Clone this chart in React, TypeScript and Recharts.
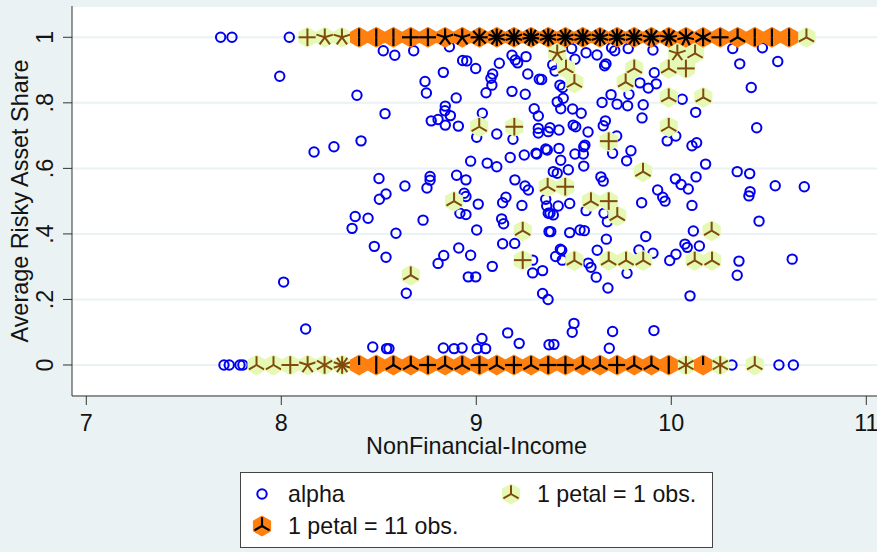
import React from 'react';
import { ScatterChart, Scatter, XAxis, YAxis, CartesianGrid, Legend, Label } from 'recharts';

const xTicks = [7, 8, 9, 10, 11];
const yTicks = [0, 0.2, 0.4, 0.6, 0.8, 1];
const yTickText: Record<string, string> = { '0': '0', '0.2': '.2', '0.4': '.4', '0.6': '.6', '0.8': '.8', '1': '1' };
const xTitle = 'NonFinancial-Income';
const yTitle = 'Average Risky Asset Share';
const legendNames = { alpha: 'alpha', light: '1 petal = 1 obs.', dark: '1 petal = 11 obs.' };

const alphaTopRow: [number, number][] = [[7.689, 1], [7.747, 1], [8.041, 1]];
const alphaBottomRow: [number, number][] = [
  [7.706, 0], [7.733, 0], [7.788, 0], [7.803, 0], [10.311, 0], [10.552, 0], [10.626, 0],
];
const alphaLeft: [number, number][] = [
  [7.992, 0.881], [8.523, 0.959], [8.582, 0.945], [8.679, 0.959], [8.862, 0.971], [8.93, 0.929], [8.951, 0.928],
  [8.997, 0.905], [9.118, 0.921], [9.183, 0.945], [9.255, 0.941], [9.2, 0.931], [9.212, 0.922], [9.264, 0.888],
  [9.323, 0.872], [8.831, 0.893], [8.737, 0.865], [8.744, 0.83], [8.897, 0.815], [9.084, 0.888], [9.075, 0.875],
  [9.08, 0.854], [9.05, 0.831], [9.183, 0.835], [9.251, 0.826], [8.388, 0.823], [8.532, 0.767], [8.168, 0.65],
  [8.27, 0.666], [8.409, 0.684], [8.841, 0.79], [8.839, 0.776], [8.867, 0.761], [8.769, 0.745], [8.804, 0.749],
  [8.841, 0.732], [8.908, 0.729], [9.031, 0.768], [9.297, 0.782], [9.318, 0.76], [9.105, 0.705], [9.002, 0.695],
  [9.188, 0.689], [9.318, 0.722], [9.318, 0.708], [8.971, 0.622], [9.056, 0.616], [9.105, 0.605], [9.174, 0.633],
  [9.246, 0.641], [9.306, 0.646], [8.501, 0.569], [8.634, 0.546], [8.763, 0.575], [8.763, 0.564], [8.747, 0.54],
  [8.899, 0.579], [8.947, 0.565], [9.198, 0.565], [9.25, 0.546], [9.267, 0.534], [8.537, 0.522], [8.503, 0.506],
  [8.938, 0.524], [8.947, 0.514], [9.01, 0.491], [9.135, 0.495], [9.152, 0.512], [9.234, 0.487], [9.356, 0.506],
  [9.361, 0.485], [8.916, 0.463], [8.947, 0.459], [9.13, 0.446], [9.14, 0.431], [9.369, 0.463], [8.379, 0.453],
  [8.445, 0.448], [8.363, 0.417], [8.727, 0.442], [8.588, 0.402], [9.002, 0.412], [9.373, 0.407], [8.477, 0.362],
  [8.537, 0.329], [8.91, 0.357], [8.971, 0.335], [9.135, 0.37], [9.197, 0.371], [8.833, 0.334], [8.804, 0.31],
  [9.082, 0.301], [9.289, 0.32], [8.959, 0.269], [8.997, 0.269], [9.289, 0.281], [9.34, 0.288], [8.012, 0.253],
  [8.641, 0.219], [9.34, 0.218], [9.368, 0.2], [8.125, 0.11], [8.469, 0.055], [8.54, 0.05], [8.552, 0.05],
  [8.831, 0.052], [8.886, 0.05], [8.927, 0.052], [9.004, 0.05], [9.048, 0.05], [9.029, 0.081], [9.161, 0.098],
  [9.22, 0.066], [9.373, 0.062],
];
const alphaRight: [number, number][] = [
  [9.395, 0.59], [9.415, 0.585], [9.472, 0.596], [9.639, 0.574], [9.651, 0.561], [10.021, 0.568], [10.05, 0.551],
  [10.087, 0.537], [10.127, 0.574], [10.338, 0.59], [10.402, 0.584], [10.533, 0.547], [10.682, 0.544], [10.404, 0.529],
  [10.398, 0.516], [9.93, 0.534], [9.956, 0.512], [9.968, 0.5], [10.106, 0.487], [9.848, 0.495], [9.479, 0.493],
  [9.42, 0.485], [9.563, 0.471], [9.655, 0.463], [9.672, 0.437], [10.45, 0.439], [9.378, 0.463], [9.395, 0.458],
  [9.382, 0.407], [9.479, 0.404], [9.532, 0.412], [9.554, 0.41], [9.667, 0.384], [9.869, 0.392], [10.113, 0.409],
  [9.62, 0.35], [9.431, 0.353], [9.438, 0.35], [9.407, 0.331], [9.441, 0.32], [9.834, 0.351], [9.906, 0.341],
  [10.024, 0.338], [10.07, 0.369], [10.082, 0.359], [10.144, 0.363], [9.992, 0.319], [10.347, 0.317], [10.62, 0.323],
  [10.338, 0.274], [9.574, 0.311], [9.588, 0.298], [9.615, 0.268], [9.773, 0.28], [9.675, 0.235], [10.096, 0.211],
  [9.501, 0.127], [9.492, 0.1], [9.699, 0.102], [9.911, 0.105], [9.398, 0.063], [9.682, 0.051],
  [9.489, 0.966], [9.563, 0.953], [9.619, 0.946], [9.506, 0.933], [9.665, 0.919], [9.658, 0.913], [9.694, 0.968],
  [9.71, 0.959], [9.779, 0.966], [9.906, 0.961], [10.315, 0.966], [10.467, 0.968], [10.351, 0.919], [10.546, 0.926],
  [10.41, 0.847], [9.392, 0.916], [9.404, 0.897], [9.335, 0.871], [9.913, 0.892], [9.839, 0.861], [9.882, 0.845],
  [9.923, 0.858], [9.429, 0.854], [9.443, 0.847], [9.691, 0.825], [9.783, 0.826], [9.645, 0.801], [9.722, 0.796],
  [9.776, 0.791], [9.856, 0.794], [10.056, 0.811], [10.125, 0.771], [9.85, 0.754], [9.446, 0.814], [9.415, 0.803],
  [9.433, 0.782], [9.494, 0.781], [9.538, 0.768], [9.662, 0.745], [9.651, 0.73], [9.497, 0.732], [9.51, 0.727],
  [9.378, 0.724], [9.369, 0.712], [9.424, 0.717], [9.573, 0.711], [9.72, 0.699], [10.438, 0.724], [9.979, 0.684],
  [10.023, 0.699], [10.106, 0.669], [10.13, 0.678], [9.356, 0.659], [9.364, 0.656], [9.424, 0.661], [9.31, 0.644],
  [9.557, 0.671], [9.551, 0.666], [9.506, 0.644], [9.549, 0.644], [9.433, 0.625], [9.699, 0.646], [9.793, 0.654],
  [9.771, 0.623], [9.551, 0.607], [10.176, 0.613],
];

// [x, y, petals]
const lightInterior: [number, number, number][] = [
  [9.015, 0.727, 3], [9.195, 0.727, 4], [9.415, 0.951, 5], [9.46, 0.905, 3], [9.503, 0.861, 3], [9.81, 0.905, 3],
  [9.766, 0.863, 3], [10.031, 0.951, 5], [10.122, 0.951, 3], [9.987, 0.905, 3], [10.075, 0.905, 4], [9.987, 0.817, 3],
  [10.164, 0.817, 3], [9.987, 0.727, 3], [9.679, 0.683, 4], [9.855, 0.59, 3], [8.886, 0.5, 3], [9.238, 0.41, 3],
  [9.238, 0.32, 4], [8.664, 0.274, 3], [9.366, 0.544, 3], [9.456, 0.544, 4], [9.588, 0.5, 3], [9.679, 0.5, 4],
  [9.723, 0.455, 3], [10.207, 0.41, 3], [9.503, 0.319, 3], [9.679, 0.319, 3], [9.768, 0.319, 3], [9.856, 0.319, 3],
  [10.12, 0.319, 3], [10.209, 0.319, 3],
];
const lightTopRow: [number, number, number][] = [[8.134, 1, 4], [8.223, 1, 5], [8.311, 1, 5], [10.693, 1, 3]];
const lightBottomRow: [number, number, number][] = [
  [7.873, 0, 3], [7.96, 0, 3], [8.046, 0, 4], [8.135, 0, 5], [8.222, 0, 6], [8.312, 0, 10],
  [10.075, 0, 6], [10.251, 0, 6], [10.428, 0, 3],
];
const darkTopRow: [number, number, number][] = [
  [8.399, 1, 2], [8.487, 1, 2], [8.575, 1, 2], [8.664, 1, 4], [8.752, 1, 4], [8.84, 1, 5], [8.928, 1, 5],
  [9.016, 1, 8], [9.105, 1, 10], [9.193, 1, 10], [9.281, 1, 11], [9.369, 1, 10], [9.457, 1, 10], [9.546, 1, 10],
  [9.634, 1, 10], [9.722, 1, 10], [9.81, 1, 10], [9.898, 1, 9], [9.987, 1, 9], [10.075, 1, 7], [10.163, 1, 6],
  [10.251, 1, 4], [10.34, 1, 3], [10.428, 1, 2], [10.516, 1, 2], [10.604, 1, 2],
];
const darkBottomRow: [number, number, number][] = [
  [8.399, 0, 1], [8.487, 0, 2], [8.575, 0, 3], [8.664, 0, 3], [8.752, 0, 4], [8.84, 0, 3], [8.928, 0, 3],
  [9.016, 0, 4], [9.105, 0, 3], [9.193, 0, 4], [9.281, 0, 3], [9.369, 0, 4], [9.457, 0, 4], [9.546, 0, 3],
  [9.634, 0, 3], [9.722, 0, 4], [9.81, 0, 3], [9.898, 0, 3], [9.987, 0, 2], [10.163, 0, 1],
];

const BG = '#EAF2F3';
const BLUE = '#0000F0';
const FONT = '"Liberation Sans", Arial, sans-serif';
const TEXT = '#141414';

const toPoint = ([x, y]: [number, number]) => ({ x, y });
const toFlower = ([x, y, petals]: [number, number, number]) => ({ x, y, petals });
const alphaData = [...alphaTopRow, ...alphaBottomRow, ...alphaLeft, ...alphaRight].map(toPoint);
const lightData = [...lightInterior, ...lightTopRow, ...lightBottomRow].map(toFlower);
const darkData = [...darkTopRow, ...darkBottomRow].map(toFlower);

function Flower({ cx, cy, petals, hex, ink, w }: any) {
  const R = 10.5;
  const pts = [0, 1, 2, 3, 4, 5]
    .map((i) => {
      const a = ((-90 + i * 60) * Math.PI) / 180;
      return `${cx + R * Math.cos(a)},${cy + R * Math.sin(a)}`;
    })
    .join(' ');
  const L = 8.8;
  return (
    <g>
      <polygon points={pts} fill={hex} stroke="none" />
      {Array.from({ length: petals }).map((_, i) => {
        const a = ((-90 + (i * 360) / petals) * Math.PI) / 180;
        return (
          <line key={i} x1={cx} y1={cy} x2={cx + L * Math.cos(a)} y2={cy + L * Math.sin(a)} stroke={ink} strokeWidth={w} />
        );
      })}
    </g>
  );
}

const LightShape = (p: any) => <Flower cx={p.cx} cy={p.cy} petals={p.payload.petals} hex="#E6F9B4" ink="#7F4A0C" w={2} />;
const DarkShape = (p: any) => <Flower cx={p.cx} cy={p.cy} petals={p.payload.petals} hex="#FF800E" ink="#000000" w={2.2} />;
const AlphaShape = (p: any) => <circle cx={p.cx} cy={p.cy} r={4.7} fill="none" stroke={BLUE} strokeWidth={2} />;

const XTick = ({ x, y, payload }: any) => (
  <text x={x} y={y + 24} textAnchor="middle" fontFamily={FONT} fontSize={23.4} fill={TEXT}>
    {payload.value}
  </text>
);
const YTick = ({ x, y, payload }: any) => (
  <text transform={`rotate(-90 ${x - 8} ${y})`} x={x - 8} y={y} textAnchor="middle" fontFamily={FONT} fontSize={23.4} fill={TEXT}>
    {yTickText[String(payload.value)]}
  </text>
);

function LegendBox() {
  const item = (left: number, top: number, kind: string, label: string) => (
    <div style={{ position: 'absolute', left, top, height: 30, whiteSpace: 'nowrap' }}>
      <svg width={26} height={26} style={{ position: 'absolute', left: 0, top: 0 }}>
        {kind === 'alpha' && <AlphaShape cx={13} cy={13} />}
        {kind === 'light' && <Flower cx={13} cy={13} petals={3} hex="#E6F9B4" ink="#7F4A0C" w={2} />}
        {kind === 'dark' && <Flower cx={13} cy={13} petals={3} hex="#FF800E" ink="#000000" w={2.2} />}
      </svg>
      <span style={{ position: 'absolute', left: 39, top: -1, fontFamily: FONT, fontSize: 23.2, lineHeight: '28px', color: TEXT }}>
        {label}
      </span>
    </div>
  );
  return (
    <div style={{ position: 'relative', width: 471, height: 74, background: '#fff', border: '1px solid #444', boxSizing: 'content-box' }}>
      {item(8, 8, 'alpha', legendNames.alpha)}
      {item(257, 8, 'light', legendNames.light)}
      {item(8, 40, 'dark', legendNames.dark)}
    </div>
  );
}

export default function App() {
  return (
    <div style={{ position: 'absolute', left: 0, top: 0, width: 877, height: 552, background: BG, overflow: 'hidden' }}>
      <ScatterChart width={877} height={552} margin={{ top: 6, right: 0, bottom: 0, left: 0 }}>
        <CartesianGrid horizontal vertical={false} fill="#FFFFFF" fillOpacity={1} stroke={BG} strokeWidth={2} />
        <XAxis
          type="number"
          dataKey="x"
          domain={[6.9267, 11.0549]}
          ticks={xTicks}
          allowDataOverflow
          height={156}
          tickSize={9}
          stroke="#333333"
          tick={<XTick />}
          interval={0}
        >
          <Label
            content={() => (
              <text x={476.5} y={454} textAnchor="middle" fontFamily={FONT} fontSize={23.4} fill={TEXT}>
                {xTitle}
              </text>
            )}
          />
        </XAxis>
        <YAxis
          type="number"
          dataKey="y"
          domain={[-0.0946, 1.0955]}
          ticks={yTicks}
          allowDataOverflow
          width={72}
          tickSize={9}
          stroke="#333333"
          tick={<YTick />}
          interval={0}
        >
          <Label
            content={() => (
              <text transform="rotate(-90 28 201)" x={28} y={201} textAnchor="middle" fontFamily={FONT} fontSize={23.4} fill={TEXT}>
                {yTitle}
              </text>
            )}
          />
        </YAxis>
        <Legend
          layout="horizontal"
          verticalAlign="middle"
          align="center"
          wrapperStyle={{ position: 'absolute', left: 240, top: 472, width: 473, height: 76, margin: 0, padding: 0 }}
          content={() => <LegendBox />}
        />
        <Scatter name={legendNames.alpha} data={alphaData} shape={AlphaShape} isAnimationActive={false} />
        <Scatter name={legendNames.light} data={lightData} shape={LightShape} isAnimationActive={false} />
        <Scatter name={legendNames.dark} data={darkData} shape={DarkShape} isAnimationActive={false} />
      </ScatterChart>
    </div>
  );
}
